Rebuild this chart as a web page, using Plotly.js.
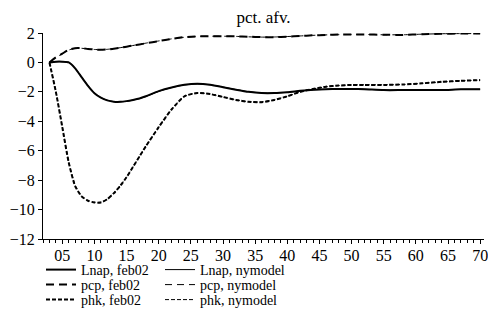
<!DOCTYPE html>
<html>
<head>
<meta charset="utf-8">
<script src="https://cdn.plot.ly/plotly-3.0.1.min.js"></script>
<style>html,body{margin:0;padding:0;background:#fff;}#chart{width:488px;height:324px;}</style>
</head>
<body>
<div id="chart"></div>
<script>
// Period index (quarters)
const periods = [3,4,5,6,7,8,9,10,11,12,13,14,15,16,17,18,20,22,24,26,28,30,32,34,36,38,40,42,44,46,48,50,52,55,58,61,64,67,70];

const lnapFeb02 = [0,0.05,0.05,0,-0.4,-1.0,-1.6,-2.1,-2.4,-2.58,-2.67,-2.68,-2.63,-2.55,-2.45,-2.3,-1.95,-1.7,-1.52,-1.45,-1.52,-1.68,-1.85,-2.0,-2.08,-2.08,-2.02,-1.93,-1.86,-1.82,-1.8,-1.8,-1.82,-1.88,-1.88,-1.88,-1.88,-1.83,-1.82];
const lnapNymodel = [0,0.04,0.05,0.01,-0.38,-0.98,-1.58,-2.08,-2.39,-2.57,-2.66,-2.68,-2.64,-2.56,-2.46,-2.32,-1.97,-1.71,-1.53,-1.46,-1.52,-1.67,-1.84,-1.99,-2.07,-2.08,-2.03,-1.94,-1.87,-1.83,-1.81,-1.8,-1.82,-1.87,-1.88,-1.88,-1.87,-1.83,-1.82];

const pcpFeb02 = [0,0.35,0.6,0.85,0.97,0.97,0.92,0.88,0.86,0.88,0.93,1.0,1.07,1.15,1.22,1.3,1.45,1.6,1.72,1.77,1.78,1.78,1.77,1.75,1.72,1.72,1.75,1.8,1.84,1.87,1.9,1.9,1.9,1.88,1.87,1.92,1.95,1.96,1.96];
const pcpNymodel = [0,0.33,0.58,0.84,0.96,0.96,0.92,0.88,0.87,0.89,0.94,1.0,1.08,1.15,1.23,1.31,1.46,1.6,1.71,1.76,1.78,1.78,1.77,1.74,1.72,1.73,1.76,1.8,1.84,1.87,1.89,1.9,1.9,1.88,1.88,1.92,1.95,1.96,1.96];

const phkFeb02 = [0,-2.0,-4.4,-6.8,-8.4,-9.1,-9.4,-9.52,-9.52,-9.3,-8.9,-8.4,-7.8,-7.1,-6.4,-5.7,-4.4,-3.2,-2.3,-2.08,-2.15,-2.35,-2.55,-2.68,-2.7,-2.55,-2.3,-2.0,-1.8,-1.65,-1.57,-1.53,-1.53,-1.53,-1.5,-1.42,-1.32,-1.25,-1.2];
const phkNymodel = [0,-1.95,-4.35,-6.75,-8.35,-9.08,-9.38,-9.5,-9.5,-9.28,-8.88,-8.38,-7.78,-7.08,-6.38,-5.68,-4.38,-3.18,-2.3,-2.08,-2.14,-2.34,-2.54,-2.67,-2.69,-2.55,-2.3,-2.01,-1.8,-1.66,-1.57,-1.53,-1.52,-1.52,-1.5,-1.42,-1.33,-1.25,-1.2];

const seriesNames = ["Lnap, feb02","Lnap, nymodel","pcp, feb02","pcp, nymodel","phk, feb02","phk, nymodel"];

const xTickVals = [5,10,15,20,25,30,35,40,45,50,55,60,65,70];
const xTickText = ["05","10","15","20","25","30","35","40","45","50","55","60","65","70"];
const yTickVals = [2,0,-2,-4,-6,-8,-10,-12];

const FONT = "Times New Roman, Liberation Serif, serif";

const seriesData = [lnapFeb02, lnapNymodel, pcpFeb02, pcpNymodel, phkFeb02, phkNymodel];
const styles = [
  {width: 2, dash: "solid"}, {width: 1, dash: "solid"},
  {width: 2, dash: "8px,5px"}, {width: 1, dash: "7px,5px"},
  {width: 2, dash: "4px,2px"}, {width: 1, dash: "4px,2px"}
];
const legendIds = ["legend","legend2","legend3","legend4","legend5","legend6"];

const traces = seriesData.map((ys, i) => ({
  type: "scatter", mode: "lines", hoverinfo: "skip",
  x: periods, y: ys, name: seriesNames[i], legend: legendIds[i],
  line: {color: "#000", width: styles[i].width, dash: styles[i].dash, shape: "spline", smoothing: 0.6}
}));

function legendAt(xPx, yPx) {
  return {
    orientation: "v", xref: "container", yref: "container",
    x: xPx/488, y: 1 - yPx/324, xanchor: "left", yanchor: "middle",
    font: {family: FONT, size: 14, color: "#000"},
    bgcolor: "rgba(0,0,0,0)", borderwidth: 0,
    itemwidth: 30, tracegroupgap: 0
  };
}

const colX = [41, 160];
const rowY = [270, 285, 300];

const layout = {
  width: 488, height: 324,
  margin: {l: 43, r: 4, t: 33, b: 85, pad: 0, autoexpand: false},
  paper_bgcolor: "#fff", plot_bgcolor: "#fff",
  font: {family: FONT, size: 15, color: "#000"},
  title: {text: "pct. afv.", x: 0.5, xref: "paper", xanchor: "center",
          y: 1 - 17/324, yref: "container", yanchor: "middle",
          font: {family: FONT, size: 17, color: "#000"}},
  xaxis: {
    range: [2, 70.6], showgrid: false, zeroline: false,
    showline: true, linecolor: "#000", linewidth: 1,
    tickmode: "array", tickvals: xTickVals, ticktext: xTickText,
    ticks: "outside", ticklen: 4, tickwidth: 1, tickcolor: "#000",
    ticklabelstandoff: -2, ticklabeloverflow: "allow",
    minor: {tickmode: "linear", tick0: 0, dtick: 1, ticks: "outside", ticklen: 3, tickwidth: 1, tickcolor: "#000", showgrid: false},
    tickfont: {family: FONT, size: 16, color: "#000"},
    automargin: false,
    fixedrange: true
  },
  yaxis: {
    range: [-12, 2], showgrid: false, zeroline: false,
    showline: true, linecolor: "#000", linewidth: 1,
    tickmode: "array", tickvals: yTickVals,
    ticks: "outside", ticklen: 4, tickwidth: 1, tickcolor: "#000",
    ticklabeloverflow: "allow",
    tickfont: {family: FONT, size: 16, color: "#000"},
    automargin: false,
    fixedrange: true
  },
  showlegend: true
};
legendIds.forEach((id, i) => {
  layout[id] = legendAt(colX[i % 2], rowY[Math.floor(i / 2)]);
});

Plotly.newPlot("chart", traces, layout, {staticPlot: true, displayModeBar: false});
</script>
</body>
</html>
